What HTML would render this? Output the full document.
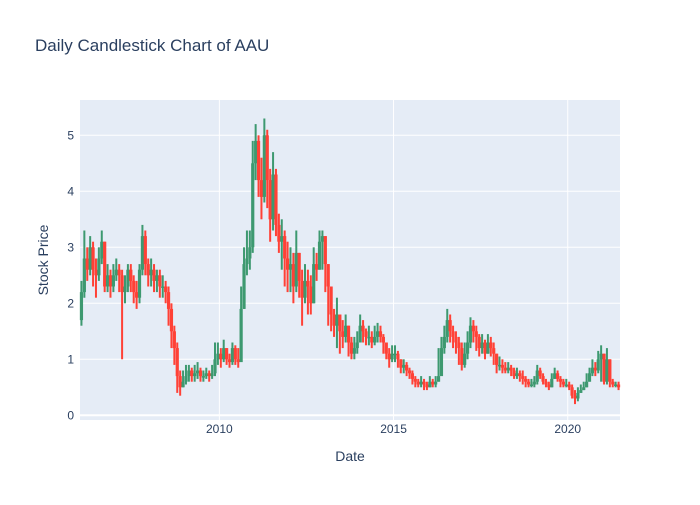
<!DOCTYPE html>
<html><head><meta charset="utf-8"><style>
body{margin:0;background:#fff;font-family:"Liberation Sans",sans-serif;}
svg text{font-family:"Liberation Sans",sans-serif;fill:#2a3f5f;}
</style></head><body>
<svg id="chart" width="700" height="500">
<rect x="0" y="0" width="700" height="500" fill="#fff"/>
<rect x="80" y="100" width="540" height="320" fill="#e5ecf6"/>
<g id="grid"></g><g id="marks"></g><g id="ticks"></g>
<text x="35" y="51" font-size="17">Daily Candlestick Chart of AAU</text>
<text x="350" y="461" font-size="14" text-anchor="middle">Date</text>
<text x="48" y="260" font-size="14" text-anchor="middle" transform="rotate(-90 48 260)">Stock Price</text>
</svg>
<script>
const startYear = 2006;
const firstOpen = 1.7;
const closes = [2.2,2.8,2.6,3.0,2.6,2.5,2.8,3.1,2.3,2.5,2.3,2.5,
2.6,2.5,2.2,2.3,2.6,2.4,2.2,2.1,2.6,3.2,2.7,2.5,
2.6,2.4,2.5,2.3,2.3,2.2,1.9,1.5,1.2,0.7,0.5,0.6,
0.7,0.8,0.7,0.75,0.8,0.7,0.7,0.75,0.7,0.75,1.0,1.1,
1.0,1.2,1.0,0.95,1.2,1.0,0.95,1.9,2.7,2.8,3.0,4.5,
4.9,4.2,3.9,5.0,4.2,3.5,4.3,3.4,3.1,3.2,2.8,2.6,
2.7,2.3,2.9,2.4,2.1,2.4,2.3,2.0,2.7,2.6,3.1,3.2,
2.7,2.3,1.8,1.6,1.8,1.5,1.4,1.6,1.3,1.1,1.2,1.3,
1.6,1.5,1.4,1.4,1.3,1.4,1.5,1.4,1.3,1.1,1.0,1.1,
1.1,1.0,0.85,0.9,0.8,0.75,0.65,0.6,0.55,0.6,0.55,0.5,
0.6,0.55,0.6,0.7,1.2,1.4,1.7,1.5,1.4,1.3,1.2,0.9,
1.1,1.3,1.6,1.5,1.4,1.2,1.3,1.1,1.3,1.2,1.1,0.9,
0.9,0.85,0.8,0.85,0.8,0.7,0.75,0.7,0.65,0.6,0.55,0.55,
0.6,0.8,0.7,0.6,0.55,0.5,0.65,0.75,0.65,0.6,0.55,0.55,
0.5,0.35,0.3,0.4,0.45,0.5,0.6,0.75,0.85,0.8,1.0,1.1,
0.6,1.0,0.6,0.55,0.55,0.5];
const highs = [2.4,3.3,3.0,3.2,3.1,2.8,3.0,3.3,3.1,2.7,2.6,2.7,
2.8,2.7,2.6,2.5,2.7,2.7,2.5,2.4,2.7,3.4,3.3,2.8,
2.8,2.7,2.6,2.6,2.5,2.4,2.3,2.0,1.6,1.3,0.8,0.8,
0.9,0.9,0.85,0.9,0.95,0.85,0.8,0.85,0.8,0.9,1.3,1.3,
1.2,1.35,1.2,1.1,1.3,1.25,1.2,2.3,3.0,3.3,3.3,4.9,
5.2,5.0,4.6,5.3,5.1,4.4,4.7,4.4,3.6,3.5,3.3,3.1,
3.0,2.9,3.3,2.9,2.6,2.7,2.6,2.5,3.0,2.9,3.3,3.3,
3.2,2.7,2.3,1.9,2.1,1.8,1.7,1.8,1.6,1.4,1.4,1.5,
1.8,1.7,1.55,1.6,1.5,1.6,1.65,1.6,1.45,1.3,1.2,1.25,
1.25,1.15,1.0,1.0,0.95,0.85,0.8,0.7,0.65,0.7,0.65,0.6,
0.7,0.65,0.7,1.2,1.4,1.6,1.9,1.8,1.6,1.5,1.4,1.3,
1.3,1.5,1.75,1.7,1.6,1.45,1.45,1.35,1.45,1.4,1.3,1.1,
1.05,1.0,0.95,0.95,0.9,0.85,0.85,0.8,0.8,0.7,0.65,0.65,
0.7,0.9,0.85,0.75,0.65,0.6,0.75,0.85,0.8,0.7,0.65,0.65,
0.6,0.55,0.45,0.5,0.55,0.6,0.75,0.85,1.0,0.95,1.15,1.25,
1.1,1.2,1.0,0.65,0.6,0.6];
const lows = [1.6,2.1,2.4,2.5,2.3,2.1,2.4,2.7,2.2,2.2,2.1,2.2,
2.4,2.2,1.0,2.0,2.2,2.2,2.0,1.9,2.0,2.5,2.5,2.3,
2.3,2.2,2.2,2.1,2.1,2.0,1.6,1.2,0.9,0.4,0.35,0.5,
0.55,0.6,0.6,0.6,0.65,0.6,0.6,0.65,0.6,0.65,0.7,0.9,
0.85,0.95,0.9,0.85,0.9,0.9,0.85,1.4,1.9,2.5,2.6,2.9,
4.2,3.9,3.5,3.8,3.7,3.1,3.3,3.2,2.9,2.6,2.3,2.2,
2.2,2.0,2.2,2.1,1.6,2.0,1.8,1.8,2.0,2.4,2.6,2.6,
2.2,1.6,1.5,1.4,1.2,1.1,1.2,1.3,1.05,1.0,1.0,1.1,
1.3,1.3,1.25,1.25,1.2,1.25,1.3,1.3,1.1,1.0,0.85,0.95,
0.95,0.85,0.75,0.75,0.7,0.65,0.55,0.5,0.5,0.5,0.45,0.45,
0.5,0.5,0.5,0.6,0.9,1.1,1.3,1.3,1.2,1.1,0.9,0.8,
0.85,1.0,1.2,1.3,1.15,1.05,1.1,1.0,1.1,1.05,0.9,0.75,
0.8,0.75,0.75,0.75,0.7,0.65,0.65,0.6,0.55,0.5,0.5,0.5,
0.5,0.55,0.65,0.55,0.5,0.45,0.5,0.65,0.6,0.5,0.5,0.5,
0.45,0.3,0.2,0.25,0.4,0.45,0.5,0.6,0.7,0.7,0.75,0.6,
0.55,0.55,0.5,0.5,0.5,0.45];
const yTicks = [0,1,2,3,4,5];
const xTickYears = [2010,2015,2020];

const NS = "http://www.w3.org/2000/svg";
function xScale(t){ return 80 + (t - 2006) * (540 / 15.5); }
function yScale(v){ return 415.3 - v * 56; }
function mk(tag, attrs, parent){ const e = document.createElementNS(NS, tag); for (const k in attrs) e.setAttribute(k, attrs[k]); parent.appendChild(e); return e; }
const grid = document.getElementById('grid'), marks = document.getElementById('marks'), ticks = document.getElementById('ticks');
yTicks.forEach(v => {
  const y = yScale(v);
  const l = mk('line', {x1:80, x2:620, y1:y, y2:y, stroke:'#fff', 'stroke-width': v === 0 ? 2 : 1}, grid);
  
  
  const t = mk('text', {x:74, y:y+4, 'font-size':12, 'text-anchor':'end'}, ticks);
  t.textContent = v;
  
  
});
xTickYears.forEach(yr => {
  const x = xScale(yr);
  const l = mk('line', {x1:x, x2:x, y1:100, y2:420, stroke:'#fff', 'stroke-width':1}, grid);
  
  
  const t = mk('text', {x:x, y:433, 'font-size':12, 'text-anchor':'middle'}, ticks);
  t.textContent = yr;
  
  
});
closes.forEach((c, i) => {
  const o = i === 0 ? firstOpen : closes[i-1];
  const t = startYear + (i + 0.5) / 12;
  const x = xScale(t);
  const col = c >= o ? '#3D9970' : '#FF4136';
  const g = mk('g', {}, marks);
  
  
  mk('line', {x1:x, x2:x, y1:yScale(highs[i]), y2:yScale(lows[i]), stroke:col, 'stroke-width':2}, g);
  const top = yScale(Math.max(o, c)), bot = yScale(Math.min(o, c));
  mk('rect', {x:x-1.6, y:top, width:3.2, height:Math.max(bot-top, 1.5), fill:col}, g);
});
</script>
</body></html>
